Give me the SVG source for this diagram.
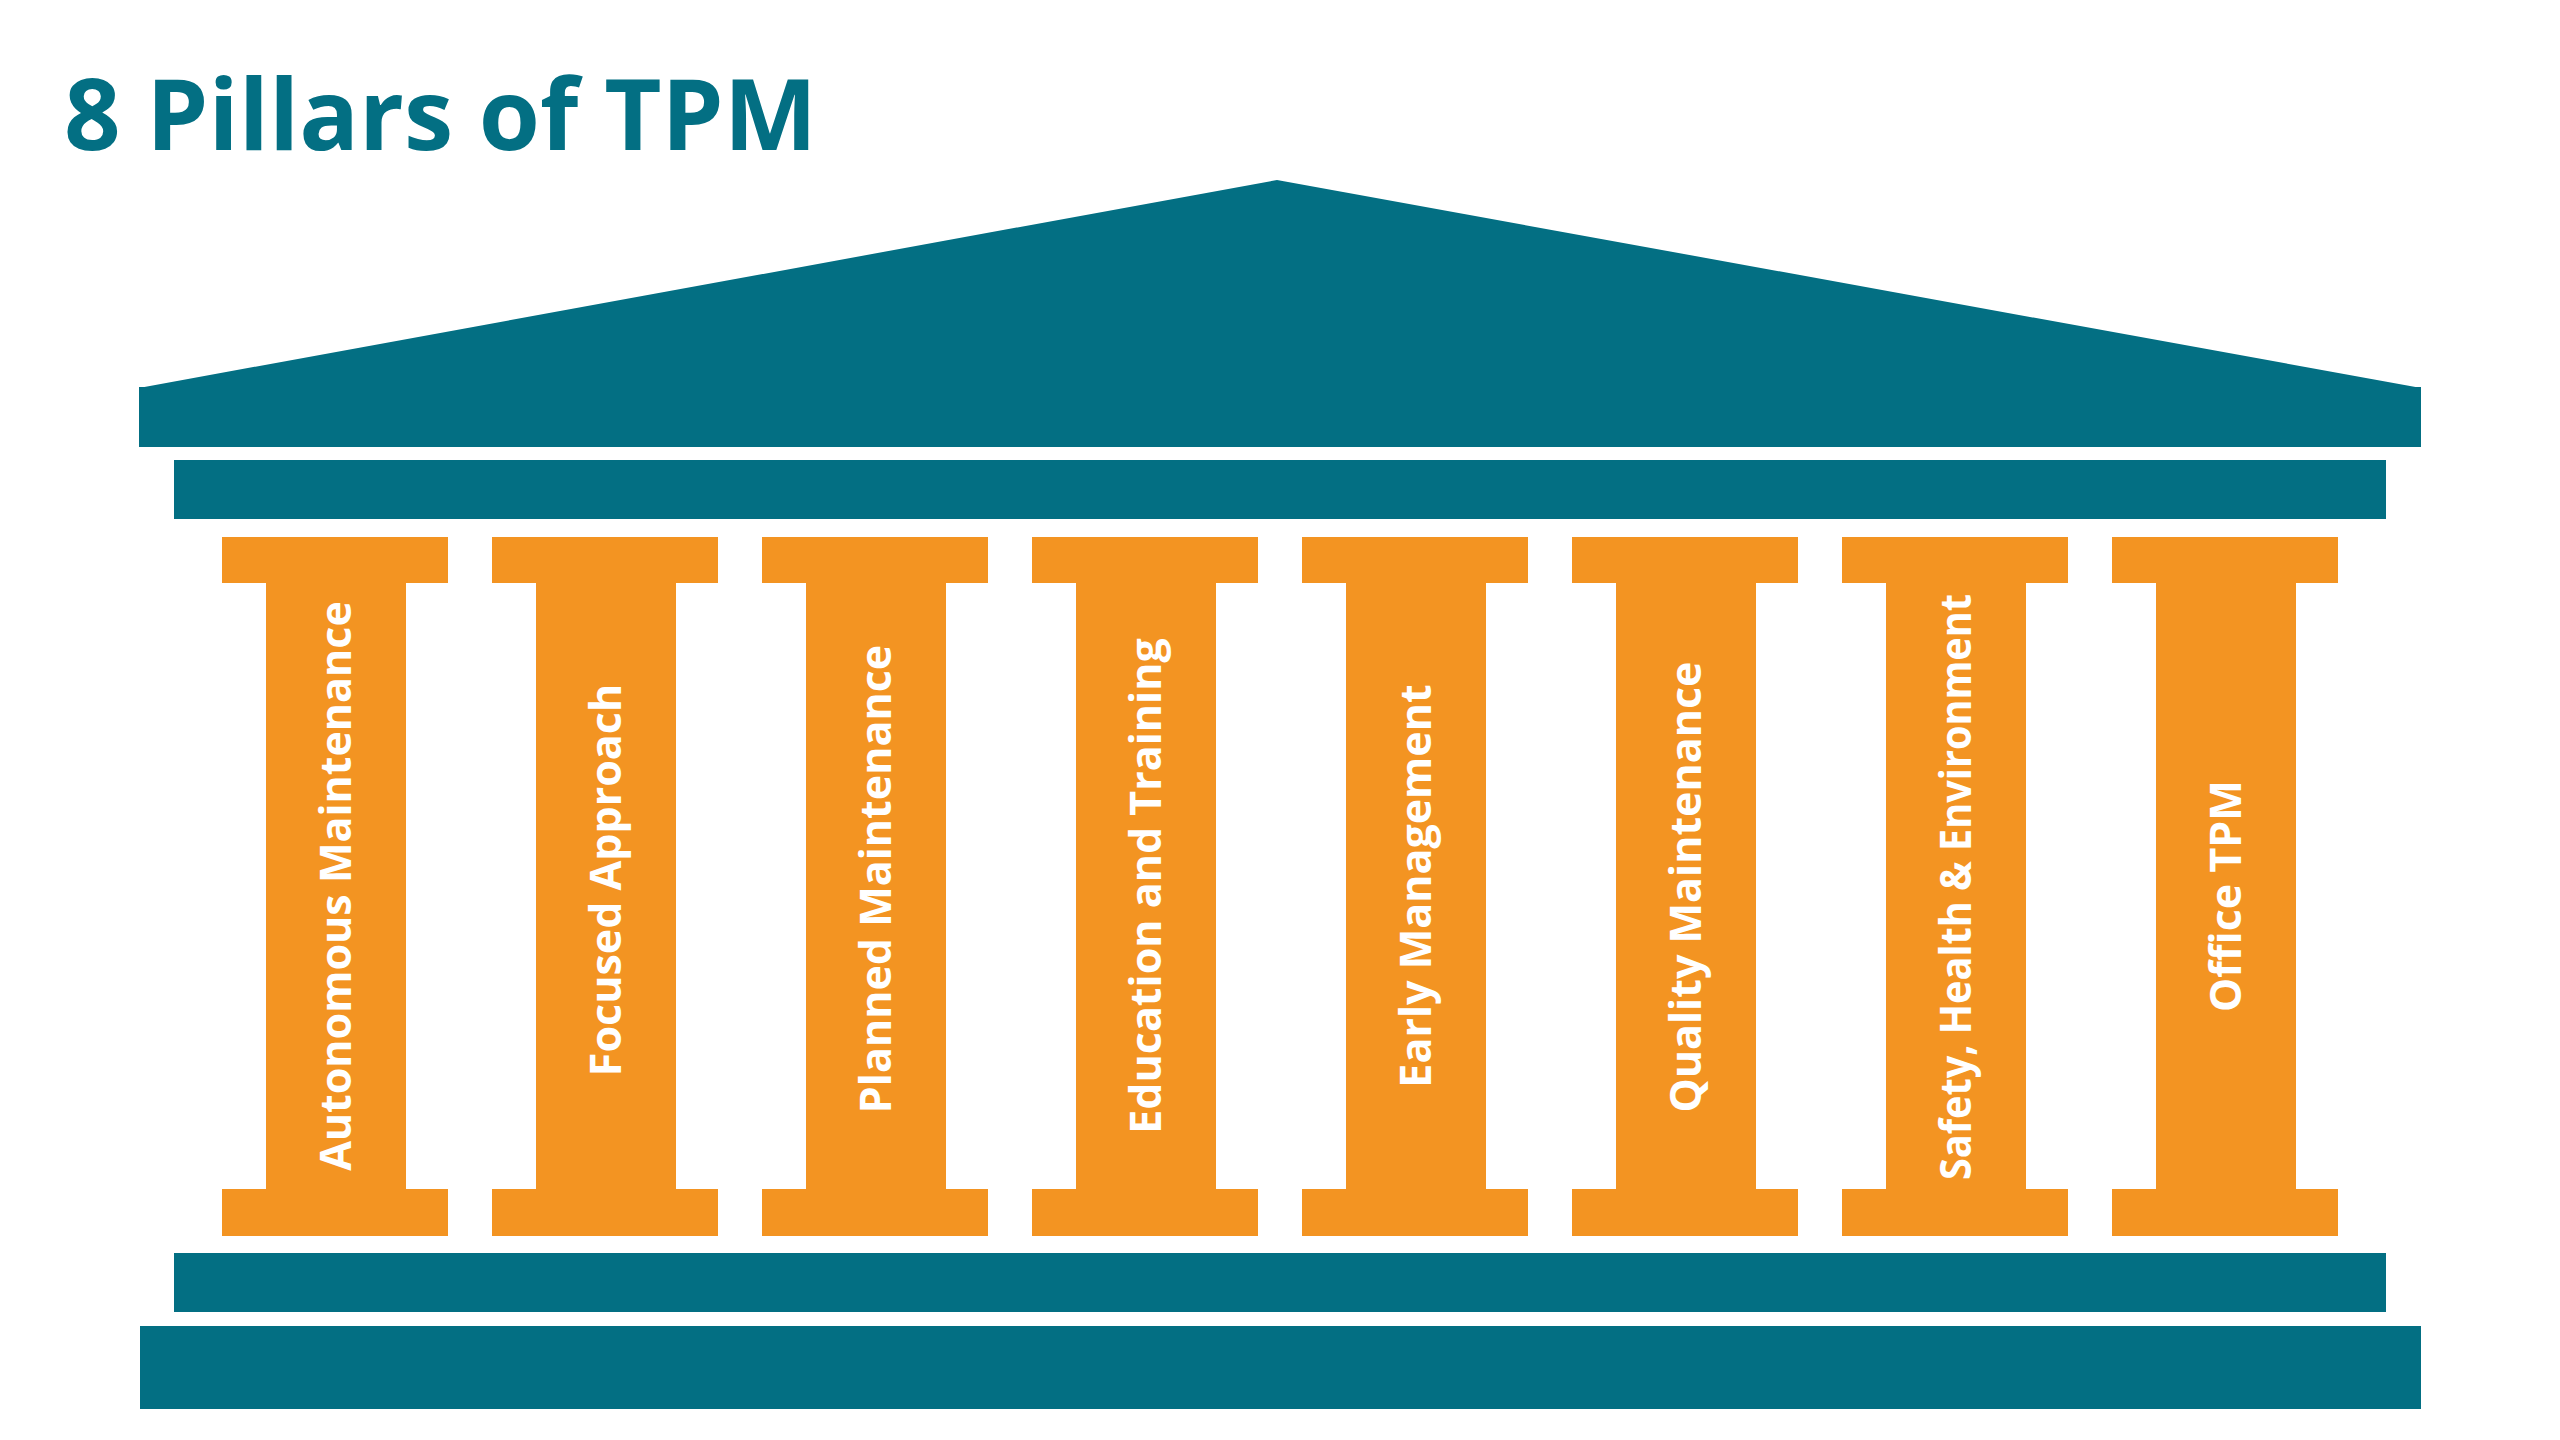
<svg xmlns="http://www.w3.org/2000/svg" width="2560" height="1440" viewBox="0 0 2560 1440">
<style>
.teal{fill:#036F83}
.org{fill:#F39422}
.title{font-family:"Open Sans","Liberation Sans",sans-serif;font-weight:700;font-size:99px;fill:#036F83}
.lbl{font-family:"Open Sans","Liberation Sans",sans-serif;font-weight:700;font-size:43px;fill:#FFFFFF;text-anchor:middle}
</style>
<defs>
<g id="pillar">
<rect class="org" x="0" y="537" width="226" height="46"/>
<rect class="org" x="44" y="582" width="140" height="608"/>
<rect class="org" x="0" y="1189" width="226" height="47"/>
</g>
</defs>
<rect width="2560" height="1440" fill="#FFFFFF"/>
<text class="title" x="64" y="150">8 Pillars of TPM</text>
<g id="roof">
<polygon class="teal" points="139,388 1277,180 2421,388"/>
<rect class="teal" x="139" y="387" width="2282" height="60"/>
<rect class="teal" x="174" y="460" width="2212" height="59"/>
</g>
<g id="base">
<rect class="teal" x="174" y="1253" width="2212" height="59"/>
<rect class="teal" x="140" y="1326" width="2281" height="83"/>
</g>
<g id="pillar1" transform="translate(222,0)"><use href="#pillar"/><text class="lbl" transform="translate(129,886) rotate(-90)">Autonomous Maintenance</text></g>
<g id="pillar2" transform="translate(492,0)"><use href="#pillar"/><text class="lbl" transform="translate(129,880) rotate(-90)">Focused Approach</text></g>
<g id="pillar3" transform="translate(762,0)"><use href="#pillar"/><text class="lbl" transform="translate(129,879) rotate(-90)">Planned Maintenance</text></g>
<g id="pillar4" transform="translate(1032,0)"><use href="#pillar"/><text class="lbl" transform="translate(129,886) rotate(-90)">Education and Training</text></g>
<g id="pillar5" transform="translate(1302,0)"><use href="#pillar"/><text class="lbl" transform="translate(129,886) rotate(-90)">Early Management</text></g>
<g id="pillar6" transform="translate(1572,0)"><use href="#pillar"/><text class="lbl" transform="translate(129,887) rotate(-90)">Quality Maintenance</text></g>
<g id="pillar7" transform="translate(1842,0)"><use href="#pillar"/><text class="lbl" transform="translate(129,887) rotate(-90)" textLength="586" lengthAdjust="spacingAndGlyphs">Safety, Health &amp; Environment</text></g>
<g id="pillar8" transform="translate(2112,0)"><use href="#pillar"/><text class="lbl" transform="translate(129,896) rotate(-90)">Office TPM</text></g>
<g id="connectors"/>
</svg>
